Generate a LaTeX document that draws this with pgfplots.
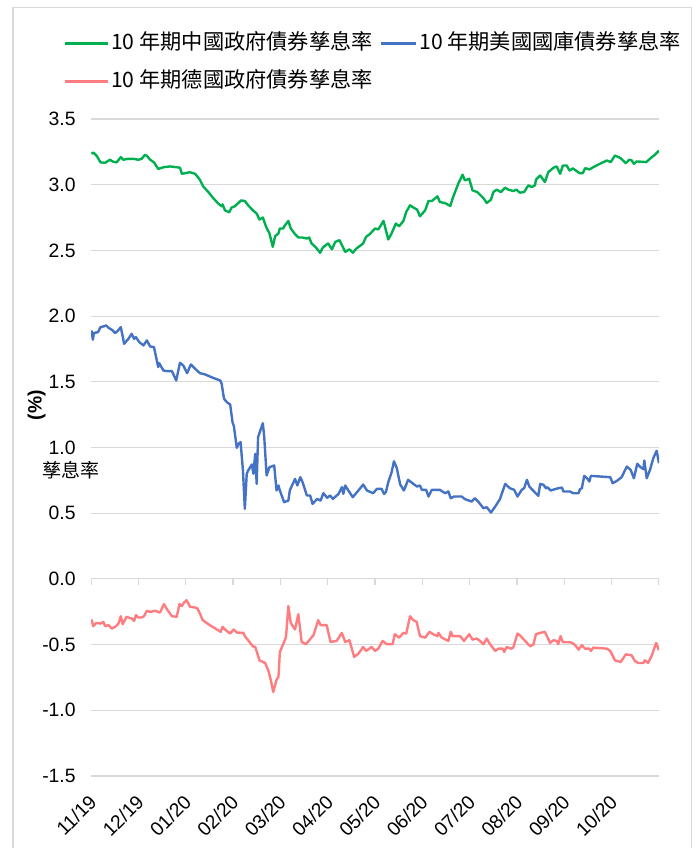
\documentclass[border=0pt]{standalone}
\usepackage{pgfplots}
\pgfplotsset{compat=1.18}
\usepackage{fontspec}
\setmainfont{Liberation Sans}
\newfontfamily\cjk{Noto Sans CJK TC}
\definecolor{cngreen}{HTML}{00B050}
\definecolor{usblue}{HTML}{4472C4}
\definecolor{depink}{HTML}{FF7C80}
\definecolor{gridgray}{HTML}{D9D9D9}

\begin{document}
\begin{tikzpicture}
\useasboundingbox (0,0) rectangle (521.25pt,636pt);
% chart frame (bottom edge falls outside the picture)
\draw[gridgray, line width=1pt] (9.75pt,-3pt) -- (9.75pt,630.4pt) -- (518.6pt,630.4pt) -- (518.6pt,-3pt);

\begin{axis}[
    at={(68.25pt,54pt)}, anchor=south west,
    scale only axis,
    width=426pt, height=492.75pt,
    xmin=0, xmax=12,
    ymin=-1.5, ymax=3.5,
    axis line style={draw=none},
    major tick length=0pt,
    xtick={0,1,2,3,4,5,6,7,8,9,10,11,12},
    xticklabels={11/19,12/19,01/20,02/20,03/20,04/20,05/20,06/20,07/20,08/20,09/20,10/20,},
    ytick={-1.5,-1,-0.5,0,0.5,1,1.5,2,2.5,3,3.5},
    yticklabel style={/pgf/number format/fixed, /pgf/number format/fixed zerofill,
        /pgf/number format/precision=1, font=\fontsize{14.5}{16}\selectfont, xshift=-8pt},
    xticklabel style={xshift=1.5pt, rotate=45, anchor=east, inner sep=0pt,
        font=\fontsize{14.5}{16}\selectfont},
    xticklabel shift=17pt,
    /pgf/number format/assume math mode=true,
    ymajorgrids=true,
    grid style={gridgray, line width=0.8pt},
    legend columns=2,
    legend cell align=left,
    legend style={at={(-24pt,558.75pt)}, anchor=north west, draw=none, fill=none,
        font=\cjk\fontsize{15.9}{19}\selectfont,
        nodes={inner sep=0pt, text height=12pt, text depth=3pt},
        row sep=13.5pt,
        /tikz/every odd column/.append style={column sep=1.5pt},
        /tikz/every even column/.append style={column sep=5pt}},
    every axis plot/.append style={line width=1.8pt, line join=round, mark=none},
]
% decorative ticks under the zero line
\pgfplotsinvokeforeach{0,...,12}{\draw[gridgray, line width=0.8pt] (axis cs:#1,0) -- ++(0pt,-4.5pt);}

\addplot[cngreen, legend image code/.code={\draw[cngreen, line width=2.2pt] (0pt,0pt) -- (32.25pt,0pt);}] coordinates {
(0.01,3.235) (0.05,3.245) (0.12,3.22) (0.20,3.17) (0.30,3.167) (0.40,3.19) (0.46,3.176) (0.54,3.17)
(0.63,3.21) (0.68,3.19) (0.79,3.197) (0.89,3.197) (1.00,3.19) (1.07,3.197) (1.14,3.227) (1.18,3.22)
(1.25,3.19) (1.33,3.17) (1.42,3.12) (1.53,3.133) (1.67,3.139) (1.81,3.133) (1.88,3.129) (1.92,3.083)
(2.02,3.09) (2.09,3.095) (2.20,3.083) (2.30,3.038) (2.37,2.987) (2.48,2.944) (2.58,2.899) (2.69,2.856)
(2.76,2.836) (2.78,2.85) (2.83,2.805) (2.92,2.79) (2.97,2.826) (3.04,2.836) (3.08,2.85) (3.17,2.88)
(3.25,2.876) (3.32,2.843) (3.42,2.805) (3.50,2.78) (3.56,2.735) (3.63,2.75) (3.70,2.679) (3.77,2.629)
(3.84,2.527) (3.89,2.608) (3.96,2.629) (3.99,2.667) (4.06,2.667) (4.10,2.692) (4.17,2.724) (4.22,2.667)
(4.31,2.624) (4.38,2.598) (4.47,2.598) (4.56,2.59) (4.61,2.598) (4.66,2.553) (4.75,2.523) (4.84,2.482)
(4.90,2.523) (5.01,2.553) (5.09,2.508) (5.16,2.565) (5.25,2.578) (5.37,2.489) (5.46,2.508) (5.53,2.482)
(5.61,2.515) (5.75,2.553) (5.81,2.603) (5.89,2.624) (6.00,2.667) (6.07,2.66) (6.18,2.724) (6.28,2.583)
(6.35,2.629) (6.44,2.704) (6.51,2.684) (6.60,2.724) (6.66,2.793) (6.74,2.843) (6.81,2.826) (6.89,2.81)
(6.95,2.76) (7.06,2.805) (7.13,2.876) (7.20,2.876) (7.32,2.911) (7.37,2.868) (7.48,2.86) (7.59,2.838)
(7.65,2.906) (7.76,3.008) (7.85,3.076) (7.90,3.033) (7.99,3.045) (8.06,2.957) (8.16,2.944) (8.23,2.919)
(8.30,2.894) (8.36,2.861) (8.45,2.886) (8.50,2.944) (8.57,2.962) (8.66,2.944) (8.75,2.977) (8.82,2.962)
(8.92,2.952) (8.99,2.962) (9.06,2.939) (9.15,2.944) (9.24,2.995) (9.31,2.982) (9.38,2.995) (9.40,3.038)
(9.49,3.07) (9.59,3.02) (9.66,3.095) (9.77,3.129) (9.84,3.139) (9.91,3.083) (9.97,3.146) (10.05,3.146)
(10.11,3.108) (10.18,3.124) (10.32,3.088) (10.39,3.088) (10.44,3.126) (10.53,3.116) (10.61,3.133) (10.75,3.159)
(10.90,3.184) (10.98,3.172) (11.07,3.222) (11.18,3.204) (11.30,3.164) (11.37,3.19) (11.42,3.186) (11.47,3.159)
(11.53,3.177) (11.73,3.172) (11.83,3.204) (11.92,3.23) (12.00,3.26)
};
\addlegendentry{10 年期中國政府債券孳息率}

\addplot[usblue, legend image code/.code={\draw[usblue, line width=2.2pt] (0pt,0pt) -- (26.25pt,0pt);}] coordinates {
(0.01,1.891) (0.04,1.82) (0.06,1.871) (0.15,1.878) (0.20,1.916) (0.26,1.921) (0.32,1.929) (0.37,1.911)
(0.44,1.896) (0.51,1.871) (0.56,1.886) (0.63,1.916) (0.70,1.789) (0.79,1.827) (0.86,1.865) (0.91,1.827)
(0.95,1.84) (1.02,1.802) (1.11,1.777) (1.18,1.815) (1.25,1.769) (1.33,1.764) (1.42,1.612) (1.44,1.642)
(1.53,1.586) (1.61,1.581) (1.71,1.581) (1.80,1.51) (1.88,1.645) (1.95,1.624) (2.03,1.566) (2.11,1.632)
(2.20,1.599) (2.30,1.566) (2.41,1.556) (2.58,1.53) (2.73,1.51) (2.76,1.485) (2.81,1.371) (2.87,1.345)
(2.94,1.327) (2.99,1.193) (3.02,1.16) (3.08,0.997) (3.11,1.023) (3.16,1.041) (3.21,0.825) (3.25,0.533)
(3.29,0.8) (3.32,0.825) (3.40,0.871) (3.43,0.8) (3.47,0.952) (3.50,0.723) (3.53,1.079) (3.63,1.185)
(3.66,1.079) (3.71,0.787) (3.77,0.85) (3.87,0.863) (3.92,0.673) (3.96,0.711) (3.99,0.673) (4.08,0.584)
(4.17,0.596) (4.20,0.673) (4.31,0.761) (4.36,0.711) (4.42,0.774) (4.47,0.736) (4.56,0.635) (4.63,0.635)
(4.68,0.571) (4.78,0.609) (4.85,0.596) (4.91,0.652) (4.99,0.617) (5.05,0.635) (5.11,0.609) (5.23,0.647)
(5.30,0.698) (5.33,0.647) (5.37,0.711) (5.46,0.66) (5.53,0.622) (5.65,0.673) (5.75,0.718) (5.83,0.673)
(5.96,0.652) (6.04,0.685) (6.14,0.685) (6.19,0.647) (6.23,0.66) (6.28,0.736) (6.35,0.81) (6.40,0.895)
(6.46,0.845) (6.53,0.72) (6.61,0.673) (6.70,0.754) (6.81,0.723) (6.89,0.703) (6.95,0.711) (6.99,0.678)
(7.08,0.678) (7.13,0.627) (7.20,0.678) (7.37,0.678) (7.48,0.652) (7.55,0.665) (7.60,0.614) (7.67,0.627)
(7.83,0.627) (7.90,0.607) (8.04,0.589) (8.11,0.614) (8.18,0.589) (8.29,0.538) (8.36,0.546) (8.45,0.505)
(8.54,0.551) (8.64,0.607) (8.75,0.723) (8.85,0.69) (8.94,0.678) (9.01,0.627) (9.10,0.678) (9.15,0.69)
(9.21,0.754) (9.26,0.703) (9.36,0.665) (9.45,0.632) (9.49,0.723) (9.56,0.716) (9.61,0.69) (9.64,0.698)
(9.71,0.673) (9.87,0.69) (9.95,0.695) (9.98,0.665) (10.12,0.665) (10.19,0.652) (10.30,0.652) (10.33,0.683)
(10.37,0.69) (10.42,0.784) (10.48,0.766) (10.53,0.741) (10.56,0.784) (10.97,0.774) (11.02,0.728) (11.11,0.746)
(11.21,0.774) (11.32,0.855) (11.40,0.83) (11.47,0.766) (11.54,0.876) (11.61,0.85) (11.67,0.835) (11.69,0.901)
(11.74,0.766) (11.81,0.83) (11.88,0.919) (11.95,0.975) (12.00,0.88)
};
\addlegendentry{10 年期美國國庫債券孳息率}

\addplot[depink, legend image code/.code={\draw[depink, line width=2.2pt] (0pt,0pt) -- (32.25pt,0pt);}] coordinates {
(0.01,-0.309) (0.05,-0.36) (0.11,-0.335) (0.20,-0.34) (0.26,-0.327) (0.30,-0.36) (0.37,-0.352) (0.44,-0.378)
(0.53,-0.36) (0.58,-0.34) (0.63,-0.284) (0.67,-0.345) (0.75,-0.289) (0.86,-0.302) (0.91,-0.319) (0.95,-0.276)
(1.00,-0.294) (1.07,-0.294) (1.12,-0.284) (1.18,-0.243) (1.25,-0.251) (1.35,-0.243) (1.46,-0.256) (1.54,-0.192)
(1.61,-0.233) (1.71,-0.284) (1.81,-0.289) (1.87,-0.192) (1.92,-0.207) (1.96,-0.182) (2.02,-0.162) (2.09,-0.212)
(2.20,-0.218) (2.25,-0.225) (2.30,-0.263) (2.36,-0.314) (2.51,-0.352) (2.66,-0.385) (2.74,-0.403) (2.78,-0.365)
(2.85,-0.391) (2.94,-0.416) (3.01,-0.385) (3.08,-0.408) (3.22,-0.411) (3.25,-0.436) (3.32,-0.467) (3.42,-0.513)
(3.47,-0.518) (3.56,-0.62) (3.68,-0.64) (3.75,-0.701) (3.80,-0.772) (3.85,-0.861) (3.92,-0.767) (3.96,-0.747)
(3.99,-0.556) (4.08,-0.48) (4.12,-0.441) (4.17,-0.207) (4.22,-0.335) (4.31,-0.385) (4.38,-0.268) (4.45,-0.48)
(4.54,-0.497) (4.61,-0.467) (4.70,-0.429) (4.80,-0.314) (4.85,-0.352) (4.98,-0.352) (5.06,-0.48) (5.19,-0.472)
(5.30,-0.411) (5.37,-0.48) (5.46,-0.467) (5.56,-0.594) (5.65,-0.569) (5.75,-0.518) (5.81,-0.548) (5.93,-0.518)
(6.00,-0.548) (6.07,-0.531) (6.16,-0.472) (6.25,-0.497) (6.37,-0.497) (6.42,-0.421) (6.51,-0.447) (6.60,-0.411)
(6.66,-0.416) (6.74,-0.284) (6.81,-0.314) (6.88,-0.327) (6.95,-0.436) (7.06,-0.447) (7.15,-0.403) (7.23,-0.421)
(7.32,-0.436) (7.34,-0.411) (7.41,-0.447) (7.55,-0.472) (7.60,-0.403) (7.64,-0.436) (7.80,-0.436) (7.88,-0.472)
(7.99,-0.421) (8.06,-0.462) (8.15,-0.454) (8.22,-0.472) (8.29,-0.497) (8.36,-0.454) (8.43,-0.497) (8.54,-0.548)
(8.61,-0.531) (8.70,-0.531) (8.73,-0.556) (8.78,-0.518) (8.87,-0.531) (8.92,-0.523) (9.01,-0.416) (9.06,-0.429)
(9.21,-0.487) (9.28,-0.513) (9.35,-0.497) (9.40,-0.421) (9.49,-0.411) (9.59,-0.403) (9.70,-0.487) (9.77,-0.467)
(9.84,-0.472) (9.87,-0.497) (9.92,-0.436) (9.97,-0.482) (10.12,-0.482) (10.19,-0.492) (10.26,-0.518) (10.30,-0.538)
(10.37,-0.505) (10.44,-0.531) (10.53,-0.531) (10.56,-0.548) (10.61,-0.523) (10.90,-0.531) (10.97,-0.548) (11.07,-0.62)
(11.19,-0.632) (11.30,-0.574) (11.42,-0.581) (11.49,-0.625) (11.56,-0.64) (11.67,-0.64) (11.70,-0.62) (11.77,-0.64)
(11.85,-0.581) (11.94,-0.487) (12.00,-0.543)
};
\addlegendentry{10 年期德國政府債券孳息率}
\end{axis}

% axis title, set as in the original: "(%)" turned, the words level
\node[rotate=90, font=\bfseries\fontsize{14.5}{16}\selectfont] at (27.4pt,332.25pt) {(\%)};
\node[font=\cjk\fontsize{14.25}{16}\selectfont] at (53.25pt,283.5pt) {孳息率};
\end{tikzpicture}
\end{document}
